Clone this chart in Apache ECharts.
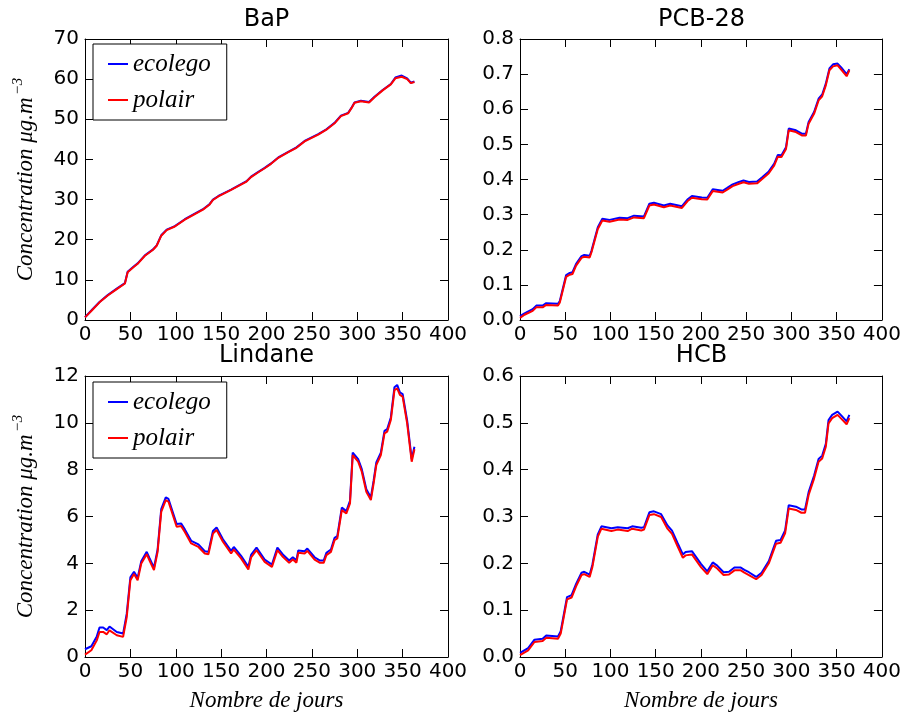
<!DOCTYPE html>
<html><head><meta charset="utf-8">
<script src="https://cdn.jsdelivr.net/npm/echarts@6/dist/echarts.min.js"></script>
<style>html,body{margin:0;padding:0;background:#fff}#c{width:904px;height:715px}</style>
</head><body><div id="c"></div>
<script>
// ---------- data ----------
const titles = ['BaP', 'PCB-28', 'Lindane', 'HCB'];
const seriesNames = ['ecolego', 'polair'];
const xLabel = 'Nombre de jours';
const yLabelMain = 'Concentration μg.m';
const yLabelSup = '−3';
const xMin = 0, xMax = 400, xStep = 50;
const yMaxes = [70, 0.8, 12, 0.6];
const ySteps = [10, 0.1, 2, 0.1];
const yDecimals = [0, 1, 0, 1];

const bapDays = [0,8,16,25,35,44,47,53,58,66,75,79,84,90,99,110,121,130,137,141,147,161,178,183,191,198,205,213,224,233,242,257,266,275,282,290,294,297,304,313,319,328,337,342,349,355,359,363];
const bapPolair = [0.65,2.5,4.4,6.1,7.7,9.1,11.9,13.1,14.0,16.0,17.5,18.5,21.0,22.4,23.3,25.0,26.4,27.5,28.7,29.9,30.8,32.4,34.5,35.6,36.8,37.8,38.9,40.4,41.8,42.9,44.5,46.2,47.4,49.0,50.8,51.5,52.9,54.1,54.5,54.2,55.5,57.2,58.7,60.2,60.6,60.0,59.0,59.3];
const bapEcolego = [0.7,2.6,4.5,6.2,7.8,9.2,12.0,13.2,14.1,16.1,17.6,18.6,21.1,22.5,23.4,25.1,26.5,27.6,28.8,30.0,30.9,32.5,34.6,35.7,36.9,37.9,39.0,40.5,41.9,43.0,44.6,46.3,47.5,49.1,50.9,51.6,53.0,54.2,54.6,54.3,55.6,57.3,58.8,60.4,60.9,60.2,59.1,59.4];

const pcbDays = [0,5,14,18,25,29,42,44,51,55,58,62,68,71,77,79,86,91,99,110,119,126,137,143,148,159,166,179,185,190,201,207,213,224,229,235,242,247,253,262,268,275,281,285,289,294,297,305,312,316,319,325,330,334,338,342,346,351,355,361,364];
const pcbPolair = [0.006,0.015,0.026,0.036,0.036,0.043,0.041,0.050,0.123,0.129,0.131,0.155,0.177,0.180,0.178,0.193,0.259,0.283,0.280,0.286,0.285,0.292,0.290,0.326,0.329,0.321,0.326,0.319,0.338,0.348,0.344,0.343,0.367,0.363,0.371,0.381,0.388,0.392,0.388,0.389,0.402,0.418,0.44,0.465,0.464,0.487,0.54,0.535,0.525,0.525,0.559,0.587,0.625,0.637,0.668,0.711,0.722,0.725,0.713,0.694,0.711];
const pcbEcolego = [0.011,0.019,0.031,0.041,0.041,0.048,0.046,0.054,0.128,0.134,0.136,0.160,0.182,0.185,0.183,0.197,0.264,0.288,0.285,0.291,0.290,0.297,0.295,0.331,0.334,0.326,0.331,0.324,0.343,0.353,0.349,0.348,0.372,0.368,0.376,0.386,0.393,0.397,0.393,0.394,0.407,0.423,0.445,0.470,0.469,0.492,0.545,0.540,0.530,0.530,0.564,0.592,0.630,0.642,0.673,0.716,0.728,0.730,0.719,0.700,0.714];

const linDays = [0,7,13,16,20,24,27,35,42,46,50,54,58,62,64,68,71,76,80,84,89,92,101,106,110,117,125,132,136,141,145,152,161,164,172,180,183,189,198,206,212,218,225,229,233,235,242,245,253,259,263,266,271,275,278,283,288,292,295,301,305,310,315,318,321,326,330,333,337,341,344,347,350,355,360,363];
const linPolair = [0.1,0.29,0.71,1.07,1.07,0.97,1.14,0.93,0.86,1.71,3.28,3.54,3.28,3.99,4.06,4.39,4.13,3.71,4.49,6.2,6.70,6.63,5.56,5.59,5.34,4.85,4.70,4.42,4.39,5.27,5.42,4.92,4.42,4.59,4.21,3.74,4.25,4.56,4.06,3.85,4.56,4.28,4.02,4.16,4.03,4.45,4.42,4.53,4.16,4.02,4.02,4.35,4.49,4.99,5.06,6.27,6.13,6.56,8.62,8.34,7.91,7.06,6.70,7.41,8.20,8.62,9.55,9.62,10.12,11.40,11.47,11.19,11.12,9.98,8.34,8.87];
const linEcolego = [0.33,0.46,0.88,1.26,1.26,1.15,1.30,1.07,1.00,1.85,3.40,3.64,3.38,4.09,4.16,4.49,4.23,3.81,4.59,6.32,6.82,6.75,5.68,5.70,5.45,4.96,4.81,4.52,4.49,5.38,5.53,5.03,4.53,4.70,4.32,3.85,4.36,4.67,4.16,3.95,4.67,4.38,4.12,4.26,4.13,4.55,4.52,4.63,4.26,4.12,4.12,4.45,4.59,5.09,5.16,6.38,6.23,6.67,8.73,8.45,8.02,7.17,6.81,7.52,8.31,8.73,9.66,9.73,10.23,11.52,11.62,11.30,11.23,10.09,8.45,8.98];

const hcbDays = [0,9,16,18,25,29,42,45,52,57,62,68,71,77,80,86,90,101,108,119,124,134,137,143,148,156,163,168,174,180,183,190,200,207,213,218,225,231,237,244,248,253,261,267,275,283,288,293,297,305,311,315,319,325,330,334,338,341,345,351,355,361,364];
const hcbPolair = [0.004,0.014,0.032,0.034,0.034,0.041,0.039,0.05,0.123,0.127,0.151,0.175,0.177,0.171,0.192,0.257,0.274,0.269,0.272,0.269,0.274,0.270,0.272,0.303,0.305,0.299,0.274,0.263,0.237,0.212,0.217,0.219,0.192,0.177,0.196,0.189,0.175,0.176,0.185,0.185,0.18,0.175,0.166,0.175,0.2,0.242,0.244,0.264,0.317,0.314,0.308,0.308,0.346,0.381,0.417,0.424,0.449,0.499,0.510,0.517,0.509,0.497,0.510];
const hcbEcolego = [0.009,0.019,0.037,0.039,0.039,0.046,0.044,0.055,0.128,0.132,0.156,0.180,0.182,0.176,0.197,0.262,0.279,0.275,0.277,0.275,0.279,0.276,0.277,0.309,0.311,0.305,0.281,0.270,0.244,0.219,0.224,0.226,0.199,0.183,0.202,0.195,0.181,0.182,0.191,0.191,0.186,0.181,0.171,0.180,0.205,0.248,0.250,0.270,0.324,0.321,0.315,0.315,0.352,0.387,0.423,0.430,0.455,0.506,0.517,0.524,0.516,0.503,0.517];

// ---------- layout / build ----------
const panels = [
  { days: bapDays, eco: bapEcolego, pol: bapPolair },
  { days: pcbDays, eco: pcbEcolego, pol: pcbPolair },
  { days: linDays, eco: linEcolego, pol: linPolair },
  { days: hcbDays, eco: hcbEcolego, pol: hcbPolair }
];
const grids = [
  { left: 85, top: 39, width: 363, height: 281 },
  { left: 520, top: 39, width: 363, height: 281 },
  { left: 85, top: 376, width: 363, height: 281 },
  { left: 520, top: 376, width: 363, height: 281 }
];
const tickFont = { color: '#000', fontFamily: 'DejaVu Sans', fontSize: 20 };
const serifItalic = { fontFamily: 'Liberation Serif', fontStyle: 'italic', color: '#000' };
const lineAxis = { show: true, onZero: false, lineStyle: { color: '#000', width: 1 } };
const tickIn = { show: true, inside: true, length: 8, lineStyle: { color: '#000', width: 1 } };

const xAxes = [], yAxes = [];
['bottom', 'top'].forEach(pos => {
  grids.forEach((g, i) => {
    const ax = {
      type: 'value', gridIndex: i, position: pos, min: xMin, max: xMax, interval: xStep,
      axisLine: lineAxis, axisTick: tickIn, splitLine: { show: false },
      axisLabel: Object.assign({ show: pos === 'bottom', margin: 5 }, tickFont)
    };
    if (pos === 'bottom' && i >= 2) {
      ax.name = xLabel; ax.nameLocation = 'middle'; ax.nameGap = 32;
      ax.nameTextStyle = Object.assign({ fontSize: 23 }, serifItalic);
    }
    xAxes.push(ax);
  });
});
['left', 'right'].forEach(pos => {
  grids.forEach((g, i) => {
    const ax = {
      type: 'value', gridIndex: i, position: pos, min: 0, max: yMaxes[i], interval: ySteps[i],
      axisLine: lineAxis, axisTick: tickIn, splitLine: { show: false },
      axisLabel: Object.assign({ show: pos === 'left', margin: 6, formatter: v => v.toFixed(yDecimals[i]) }, tickFont)
    };
    if (pos === 'left' && (i === 0 || i === 2)) {
      ax.name = '{a|' + yLabelMain + '}{s|' + yLabelSup + '}';
      ax.nameLocation = 'middle'; ax.nameRotate = 90; ax.nameGap = 44;
      ax.nameTextStyle = Object.assign({
        fontSize: 23,
        rich: {
          a: Object.assign({ fontSize: 23, lineHeight: 30 }, serifItalic),
          s: Object.assign({ fontSize: 15, verticalAlign: 'top', padding: [0, 0, 0, 2] }, serifItalic)
        }
      }, serifItalic);
    }
    yAxes.push(ax);
  });
});

const series = [];
panels.forEach((p, i) => {
  series.push({ name: seriesNames[0], type: 'line', xAxisIndex: i, yAxisIndex: i, symbol: 'none',
    lineStyle: { color: '#0000ff', width: 2 }, itemStyle: { color: '#0000ff' },
    data: p.days.map((d, k) => [d, p.eco[k]]) });
  series.push({ name: seriesNames[1], type: 'line', xAxisIndex: i, yAxisIndex: i, symbol: 'none',
    lineStyle: { color: '#ff0000', width: 2 }, itemStyle: { color: '#ff0000' },
    data: p.days.map((d, k) => [d, p.pol[k]]) });
});

const legendBase = {
  orient: 'vertical', left: 93, data: seriesNames, icon: 'rect', itemWidth: 20, itemHeight: 2, itemGap: 10,
  padding: [7, 16, 7, 15], borderColor: '#000', borderWidth: 1, borderRadius: 0,
  backgroundColor: '#fff', selectedMode: false,
  textStyle: Object.assign({ fontSize: 25, lineHeight: 26 }, serifItalic)
};

const option = {
  animation: false,
  backgroundColor: '#fff',
  title: titles.map((t, i) => ({
    text: t, left: grids[i].left + grids[i].width / 2, top: i < 2 ? 8 : 344,
    textAlign: 'center', padding: 0,
    textStyle: { fontFamily: 'DejaVu Sans', fontWeight: 'normal', fontSize: 24, color: '#000' }
  })),
  legend: [
    Object.assign({ top: 44 }, legendBase),
    Object.assign({ top: 382 }, legendBase)
  ],
  grid: grids,
  xAxis: xAxes,
  yAxis: yAxes,
  series: series
};
const chart = echarts.init(document.getElementById('c'), null, { renderer: 'canvas' });
chart.setOption(option);
</script></body></html>
